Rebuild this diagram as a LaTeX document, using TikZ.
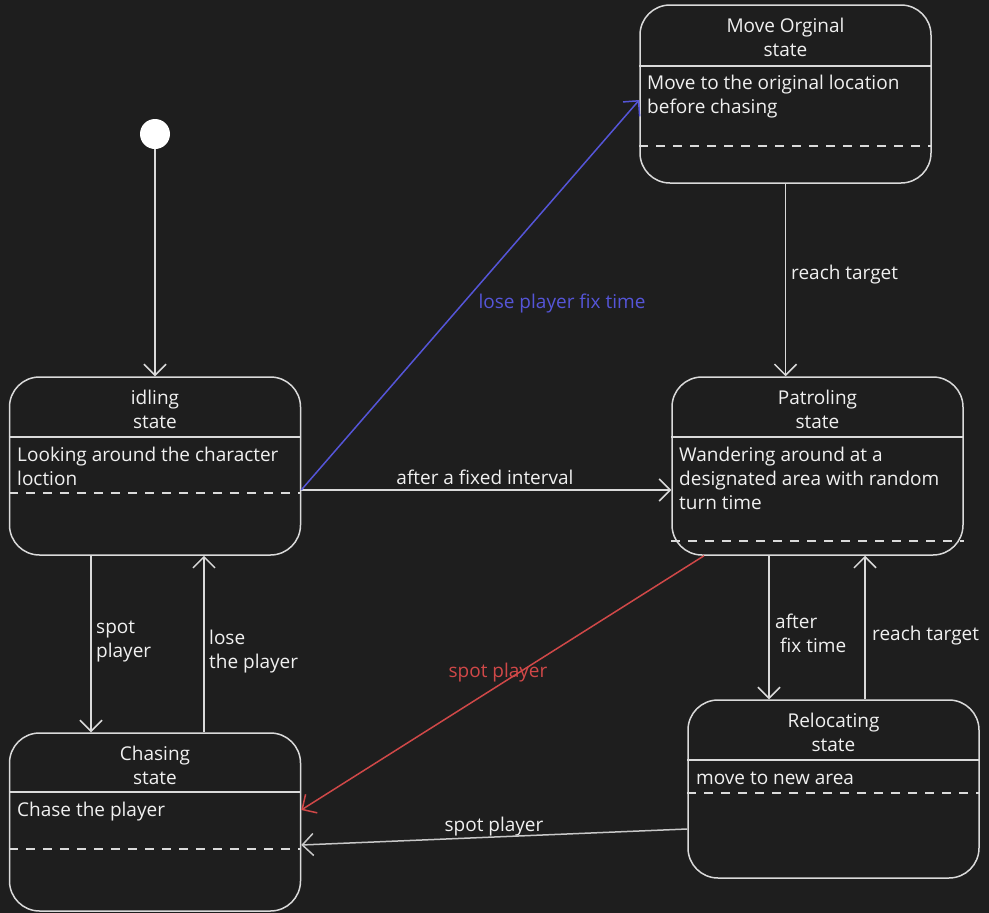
\documentclass[tikz,border=0pt]{standalone}
\usepackage{fontspec}
\setmainfont{Open Sans}
\usetikzlibrary{arrows.meta,calc}
\definecolor{bg}{HTML}{1E1E1E}
\definecolor{ln}{HTML}{DADADA}
\definecolor{tx}{HTML}{F0F0F0}
\definecolor{blu}{HTML}{5555D8}
\definecolor{rd}{HTML}{D04848}
\definecolor{gr}{HTML}{C8C8C8}
\tikzset{
  statebox/.style={draw=ln, line width=1.5pt, rounded corners=30pt, fill=bg, minimum width=291pt, minimum height=178pt, inner sep=0pt},
  sep/.style={draw=ln, line width=1.5pt},
  dsep/.style={draw=ln, line width=1.5pt, dash pattern=on 9pt off 8pt},
  ttl/.style={text=tx, align=center, anchor=base, inner sep=0pt, font=\fontsize{19}{24}\selectfont},
  body/.style={text=tx, align=left, anchor=base west, inner sep=0pt, font=\fontsize{19}{24}\selectfont},
  lbl/.style={text=tx, align=left, inner sep=0pt, font=\fontsize{19}{24}\selectfont},
  conn/.style={draw=ln, line width=1.5pt, -{Straight Barb[length=11pt,width=22pt,line width=1.5pt]}},
}
\begin{document}
\begin{tikzpicture}[x=1pt,y=-1pt]
\fill[bg] (0,0) rectangle (989,913);
\useasboundingbox (0,0) rectangle (989,913);

% initial
\node[circle, fill=white, minimum size=30pt, inner sep=0pt] (init) at (155,134) {};

% states
\node[statebox] (mo) at (785.5,94) {};
\node[statebox] (idle) at (155,466) {};
\node[statebox] (pat) at (817.5,466) {};
\node[statebox] (rel) at (833.5,789) {};
\node[statebox] (chs) at (155,822) {};

% separators
\draw[sep] (mo.west |- 0,66) -- (mo.east |- 0,66);
\draw[dsep] (mo.west |- 0,146) -- (mo.east |- 0,146);
\draw[sep] (idle.west |- 0,437) -- (idle.east |- 0,437);
\draw[dsep] (idle.west |- 0,493) -- (idle.east |- 0,493);
\draw[sep] (pat.west |- 0,437) -- (pat.east |- 0,437);
\draw[dsep] (pat.west |- 0,541) -- (pat.east |- 0,541);
\draw[sep] (rel.west |- 0,760) -- (rel.east |- 0,760);
\draw[dsep] (rel.west |- 0,793) -- (rel.east |- 0,793);
\draw[sep] (chs.west |- 0,792) -- (chs.east |- 0,792);
\draw[dsep] (chs.west |- 0,849) -- (chs.east |- 0,849);

% titles (base anchor = last line)
\node[ttl] (moT) at (785.5,56) {Move Orginal\\state};
\node[ttl] (idleT) at (155,428) {idling\\state};
\node[ttl] (patT) at (817.5,428) {Patroling\\state};
\node[ttl] (relT) at (833.5,751) {Relocating\\state};
\node[ttl] (chsT) at (155,784) {Chasing\\state};

% bodies
\node[body] (moB) at (647,113) {Move to the original location\\before chasing};
\node[body] (idleB) at (17,485) {Looking around the character\\loction};
\node[body] (patB) at (679,509) {Wandering around at a\\designated area with random\\turn time};
\node[body] (relB) at (696,784) {move to new area};
\node[body] (chsB) at (17,816) {Chase the player};

% connectors
\draw[conn] (init) -- (idle.north);
\draw[conn] (idle.east |- 0,490) -- (pat.west |- 0,490);
\draw[conn, draw=blu] (idle.east |- 0,490) -- (mo.west |- 0,100);
\draw[conn] (mo.south) -- (pat.north -| mo.south);
\draw[conn] (idle.south -| 91,0) -- (chs.north -| 91,0);
\draw[conn] (chs.north -| 204,0) -- (idle.south -| 204,0);
\draw[conn, draw=rd] (pat.south -| 704,0) -- (chs.east |- 0,810);
\draw[conn] (pat.south -| 769,0) -- (rel.north -| 769,0);
\draw[conn] (rel.north -| 865,0) -- (pat.south -| 865,0);
\draw[conn, draw=gr] (rel.west |- 0,829) -- (chs.east |- 0,845);

% labels
\node[lbl, anchor=base] (l1) at (485,484) {after a fixed interval};
\node[lbl, anchor=base, text=blu] (l2) at (562,308) {lose player fix time};
\node[lbl, anchor=base west] (l3) at (791,279) {reach target};
\node[lbl, anchor=base west] (l4) at (96,657) {spot\\player};
\node[lbl, anchor=base west] (l5) at (209,668) {lose\\the player};
\node[lbl, anchor=base, text=rd] (l6) at (498,677) {spot player};
\node[lbl, anchor=base west] (l7) at (775,652) {after\\\hspace*{5pt}fix time};
\node[lbl, anchor=base west] (l8) at (872,640) {reach target};
\node[lbl, anchor=base] (l9) at (494,831) {spot player};
\end{tikzpicture}
\end{document}
